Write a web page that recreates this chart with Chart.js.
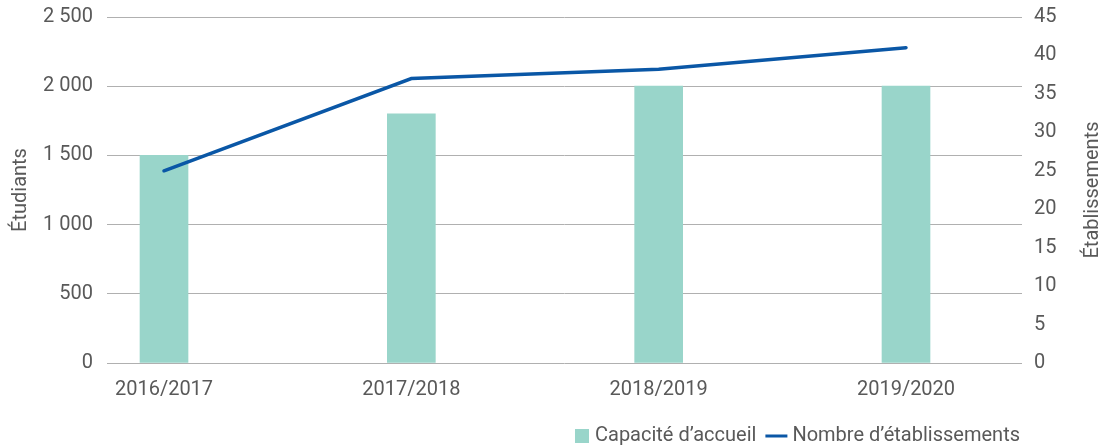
<!DOCTYPE html>
<html lang="fr">
<head>
<meta charset="utf-8">
<script src="https://cdn.jsdelivr.net/npm/chart.js@4.4.1/dist/chart.umd.min.js"></script>
<style>
  html, body { margin: 0; padding: 0; background: #fff; }
</style>
</head>
<body>
<canvas id="chart" width="1103" height="448"></canvas>
<script>
// data
const categories = ["2016/2017", "2017/2018", "2018/2019", "2019/2020"];
const capacite = [1500, 1800, 2000, 2000];
const etablissements = [25, 37, 38.2, 41];
const seriesLabels = ["Capacité d’accueil", "Nombre d’établissements"];
const axisTitles = ["Étudiants", "Établissements"];

const TEXT = "#595959";
const FONT = "Roboto";
const SIZE = 20;

const fmt = (v) => String(v).replace(/\B(?=(\d{3})+(?!\d))/g, "\u00a0");

// keep the plot area where the reference has it
const noPad = (s) => {
  s.paddingTop = 0;
  s.paddingBottom = 0;
  s.paddingLeft = 0;
  s.paddingRight = 0;
};

// right axis title, read bottom to top like the left one
const rightTitle = {
  id: "rightTitle",
  afterDraw(chart) {
    const { ctx, chartArea } = chart;
    ctx.save();
    ctx.translate(1093, (chartArea.top + chartArea.bottom) / 2);
    ctx.rotate(-Math.PI / 2);
    ctx.font = SIZE + "px " + FONT;
    ctx.fillStyle = TEXT;
    ctx.textAlign = "center";
    ctx.textBaseline = "middle";
    ctx.fillText(axisTitles[1], 0, 0);
    ctx.restore();
  }
};

// legend at bottom right: square for bars, short line for the line
const bottomLegend = {
  id: "bottomLegend",
  afterDraw(chart) {
    const { ctx } = chart;
    const ds = chart.data.datasets;
    const y = 436;
    ctx.save();
    ctx.font = SIZE + "px " + FONT;
    ctx.fillStyle = TEXT;
    ctx.textBaseline = "middle";
    const right = 1020;
    // second item (line)
    const w2 = ctx.measureText(ds[1].label).width;
    const x2 = right - w2;
    ctx.fillText(ds[1].label, x2, y);
    ctx.strokeStyle = ds[1].borderColor;
    ctx.lineWidth = 3;
    ctx.beginPath();
    ctx.moveTo(x2 - 27, y);
    ctx.lineTo(x2 - 5, y);
    ctx.stroke();
    // first item (bars)
    const w1 = ctx.measureText(ds[0].label).width;
    const x1 = x2 - 27 - 9 - w1;
    ctx.fillStyle = TEXT;
    ctx.fillText(ds[0].label, x1, y);
    ctx.fillStyle = ds[0].backgroundColor;
    ctx.fillRect(x1 - 20, y - 7, 14, 14);
    ctx.restore();
  }
};

new Chart(document.getElementById("chart"), {
  data: {
    datasets: [
      {
        type: "bar",
        label: seriesLabels[0],
        data: capacite.map((v, i) => ({ x: i, y: v })),
        backgroundColor: "#99d5ca",
        barThickness: 48,
        yAxisID: "y",
        order: 2
      },
      {
        type: "line",
        label: seriesLabels[1],
        data: etablissements.map((v, i) => ({ x: i, y: v })),
        borderColor: "#0a57a6",
        borderWidth: 3.5,
        borderCapStyle: "round",
        pointRadius: 0,
        tension: 0,
        yAxisID: "y1",
        order: 1
      }
    ]
  },
  options: {
    responsive: false,
    animation: false,
    layout: { padding: { top: 17, left: 0, right: 0, bottom: 45 } },
    plugins: { legend: { display: false }, tooltip: { enabled: false } },
    scales: {
      x: {
        type: "linear",
        offset: false,
        min: -0.2305,
        max: 3.469,
        afterBuildTicks: (s) => { s.ticks = categories.map((c, i) => ({ value: i })); },
        afterFit: (s) => { s.height = 40; noPad(s); },
        grid: { display: false, drawTicks: false },
        border: { display: false },
        ticks: {
          padding: 15,
          color: TEXT,
          font: { family: FONT, size: SIZE },
          maxRotation: 0,
          callback: (v) => categories[v]
        }
      },
      y: {
        position: "left",
        min: 0,
        max: 2500,
        afterFit: (s) => { s.width = 107; noPad(s); },
        grid: { color: "#b0b0b0", lineWidth: 1, drawTicks: false },
        border: { display: false },
        ticks: {
          stepSize: 500,
          padding: 14,
          color: TEXT,
          font: { family: FONT, size: SIZE },
          callback: (v) => fmt(v)
        },
        title: {
          display: true,
          text: axisTitles[0],
          color: TEXT,
          font: { family: FONT, size: SIZE },
          padding: { top: 9, bottom: 0 }
        }
      },
      y1: {
        position: "right",
        min: 0,
        max: 45,
        afterFit: (s) => { s.width = 81; noPad(s); },
        grid: { display: false, drawTicks: false },
        border: { display: false },
        ticks: {
          stepSize: 5,
          padding: 12,
          color: TEXT,
          font: { family: FONT, size: SIZE }
        }
      }
    }
  },
  plugins: [rightTitle, bottomLegend]
});
</script>
</body>
</html>
